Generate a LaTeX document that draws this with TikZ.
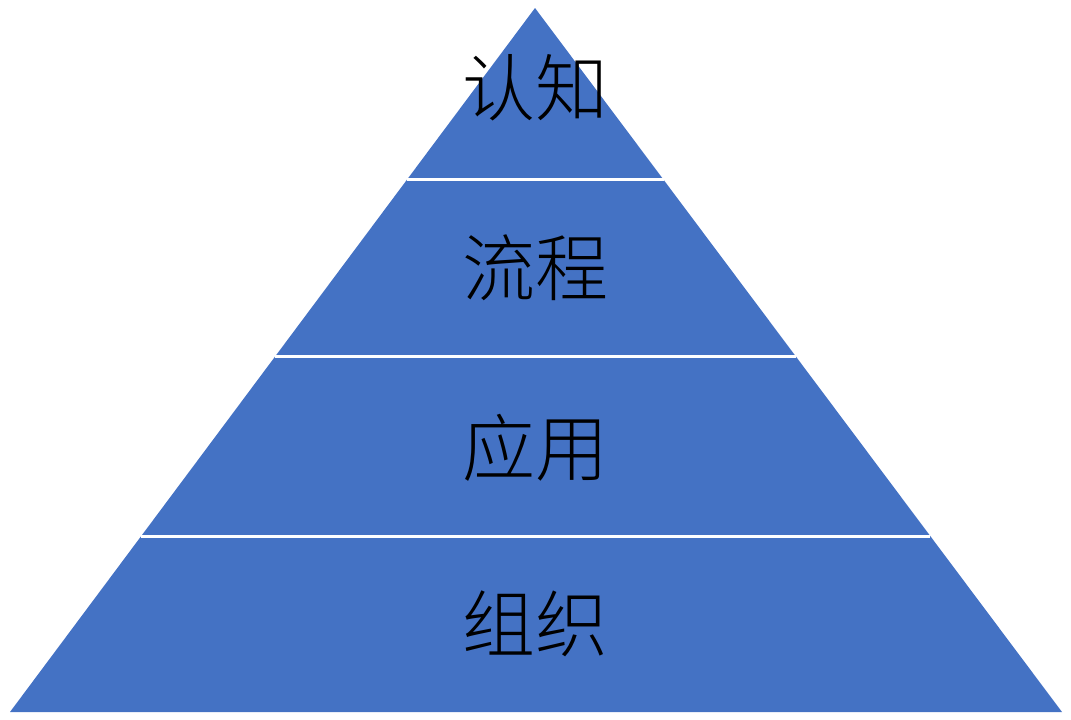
\documentclass[tikz,border=0pt]{standalone}
\usepackage{fontspec}
\newfontfamily\cjk{Noto Sans CJK SC Light}
\usetikzlibrary{calc}
\definecolor{pyr}{HTML}{4472C4}
\tikzset{lbl/.style={font=\cjk\fontsize{73}{75}\selectfont,text=black,inner sep=0pt},
sep/.style={draw=white,line width=3pt}}
\begin{document}
\begin{tikzpicture}[x=1pt,y=-1pt]
\useasboundingbox (0,0) rectangle (1071,720);
\coordinate (apex) at (535,8);
\coordinate (bl) at (10,712);
\coordinate (br) at (1062,712);
\fill[pyr] (apex) -- (bl) -- (br) -- cycle;
\foreach \t in {0.2443,0.4957,0.75}
  \draw[sep] ($(apex)!\t!(bl)$) -- ($(apex)!\t!(br)$);
\node[lbl] (n1) at (535,88) {认知};
\node[lbl] (n2) at (535,268) {流程};
\node[lbl] (n3) at (535,448) {应用};
\node[lbl] (n4) at (535,624) {组织};
\end{tikzpicture}
\end{document}
